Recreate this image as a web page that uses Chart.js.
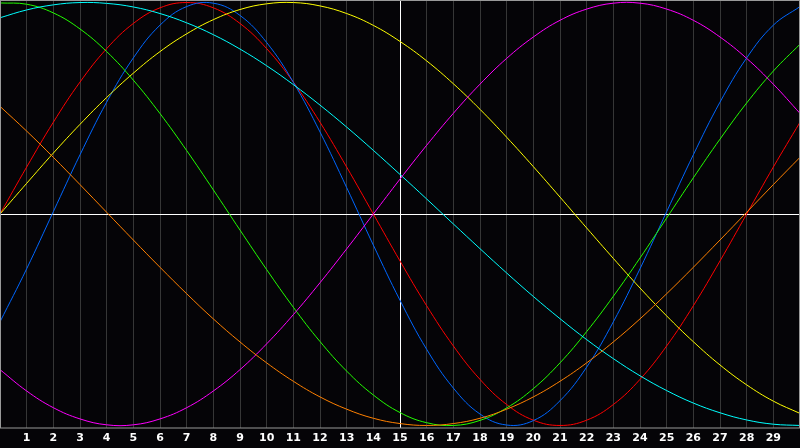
<!DOCTYPE html>
<html>
<head>
<meta charset="utf-8">
<script src="https://cdn.jsdelivr.net/npm/chart.js@4/dist/chart.umd.min.js"></script>
<style>
  html, body { margin: 0; padding: 0; background: #050407; }
  #wrap { width: 800px; height: 448px; position: relative; }
</style>
</head>
<body>
<div id="wrap"><canvas id="c" width="800" height="448"></canvas></div>
<script>
const xValues = [0,1,2,3,4,5,6,7,8,9,10,11,12,13,14,15,16,17,18,19,20,21,22,23,24,25,26,27,28,29,30];
const tickLabels = ['1','2','3','4','5','6','7','8','9','10','11','12','13','14','15','16','17','18','19','20','21','22','23','24','25','26','27','28','29'];

const redSeries = [0, 0.222, 0.434, 0.624, 0.782, 0.901, 0.975, 1.000, 0.975, 0.901, 0.782, 0.624, 0.434, 0.222, 0, -0.222, -0.434, -0.624, -0.782, -0.901, -0.975, -1.000, -0.975, -0.901, -0.782, -0.624, -0.434, -0.222, 0, 0.222, 0.434];
const greenSeries = [0.998, 0.992, 0.951, 0.875, 0.768, 0.633, 0.475, 0.300, 0.114, -0.076, -0.263, -0.441, -0.603, -0.743, -0.856, -0.939, -0.987, -1.000, -0.976, -0.917, -0.826, -0.704, -0.556, -0.389, -0.208, -0.019, 0.171, 0.354, 0.525, 0.676, 0.803];
const blueSeries = [-0.510, -0.259, 0.011, 0.280, 0.529, 0.738, 0.893, 0.981, 0.997, 0.939, 0.811, 0.623, 0.388, 0.125, -0.147, -0.408, -0.640, -0.823, -0.946, -0.998, -0.977, -0.883, -0.724, -0.510, -0.259, 0.011, 0.280, 0.529, 0.738, 0.893, 0.981];
const yellowSeries = [0, 0.145, 0.288, 0.424, 0.551, 0.666, 0.768, 0.852, 0.919, 0.967, 0.994, 1.000, 0.984, 0.948, 0.892, 0.816, 0.724, 0.616, 0.495, 0.363, 0.224, 0.080, -0.066, -0.210, -0.350, -0.482, -0.604, -0.714, -0.808, -0.885, -0.943];
const cyanSeries = [0.928, 0.965, 0.989, 1.000, 0.996, 0.979, 0.948, 0.904, 0.848, 0.780, 0.701, 0.612, 0.515, 0.411, 0.301, 0.187, 0.071, -0.047, -0.164, -0.279, -0.390, -0.495, -0.594, -0.684, -0.765, -0.835, -0.894, -0.940, -0.974, -0.994, -1.000];
const magentaSeries = [-0.736, -0.837, -0.916, -0.969, -0.997, -0.997, -0.969, -0.916, -0.837, -0.736, -0.614, -0.476, -0.325, -0.165, 0, 0.165, 0.325, 0.476, 0.614, 0.736, 0.837, 0.916, 0.969, 0.997, 0.997, 0.969, 0.916, 0.837, 0.736, 0.614, 0.476];
const orangeSeries = [0.509, 0.392, 0.268, 0.139, 0.008, -0.123, -0.252, -0.377, -0.496, -0.605, -0.704, -0.791, -0.865, -0.923, -0.966, -0.991, -1.000, -0.991, -0.966, -0.923, -0.865, -0.791, -0.704, -0.605, -0.496, -0.377, -0.252, -0.123, 0.008, 0.139, 0.268];

const seriesList = [
  { data: orangeSeries, color: '#ff8000' },
  { data: magentaSeries, color: '#ff00ff' },
  { data: cyanSeries, color: '#00ffff' },
  { data: yellowSeries, color: '#ffff00' },
  { data: greenSeries, color: '#22ff00' },
  { data: blueSeries, color: '#0066ff' },
  { data: redSeries, color: '#ff0000' }
];

const datasets = seriesList.map(s => ({
  data: xValues.map((x, i) => ({ x: x, y: s.data[i] })),
  borderColor: s.color,
  borderWidth: 1,
  pointRadius: 0,
  fill: false,
  tension: 0.4
}));

const bgPlugin = {
  id: 'bg',
  beforeDraw(chart) {
    const ctx = chart.ctx;
    ctx.save();
    ctx.fillStyle = '#050407';
    ctx.fillRect(0, 0, chart.width, chart.height);
    ctx.restore();
  },
  afterDraw(chart) {
    const a = chart.chartArea;
    const ctx = chart.ctx;
    ctx.save();
    ctx.strokeStyle = '#999999';
    ctx.lineWidth = 1;
    ctx.strokeRect(0.5, 0.5, 799, a.bottom - 0.5);
    ctx.restore();
  }
};

new Chart(document.getElementById('c'), {
  type: 'line',
  data: { datasets: datasets },
  plugins: [bgPlugin],
  options: {
    responsive: false,
    animation: false,
    layout: { padding: 0 },
    plugins: { legend: { display: false }, tooltip: { enabled: false } },
    scales: {
      x: {
        type: 'linear',
        min: 0,
        max: 30,
        afterBuildTicks(scale) {
          scale.ticks = tickLabels.map(t => ({ value: Number(t) }));
        },
        afterFit(scale) { scale.height = 20; },
        grid: {
          drawTicks: false,
          color: ctx => (ctx.tick && ctx.tick.value === 15) ? '#ffffff' : '#363636',
          lineWidth: 1
        },
        border: { display: false },
        ticks: {
          color: '#ffffff',
          padding: 4,
          autoSkip: false,
          maxRotation: 0,
          font: { family: 'DejaVu Sans', size: 11, weight: 'bold' },
          callback: (v) => tickLabels[v - 1]
        }
      },
      y: {
        min: -1.012,
        max: 1.012,
        afterBuildTicks(scale) { scale.ticks = [{ value: 0 }]; },
        afterFit(scale) { scale.width = 0; },
        grid: { drawTicks: false, color: '#ffffff', lineWidth: 1 },
        border: { display: false },
        ticks: { display: false }
      }
    }
  }
});
</script>
</body>
</html>
